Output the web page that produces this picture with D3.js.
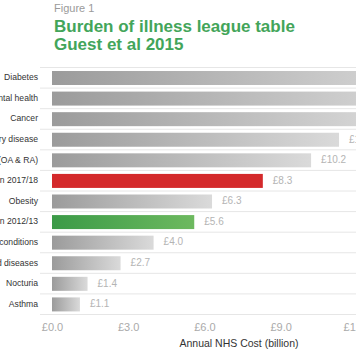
<!DOCTYPE html>
<html><head><meta charset="utf-8">
<script src="https://cdn.jsdelivr.net/npm/d3@7"></script>
<style>
html,body{margin:0;padding:0;background:#fff;overflow:hidden;}
svg{display:block;font-family:"Liberation Sans",Arial,Helvetica,sans-serif;}
</style></head>
<body>
<svg id="chart" width="356" height="364"></svg>
<script>
const categories = ["Diabetes","Mental health","Cancer","Respiratory disease","Arthritis (OA & RA)","Continence prescription 2017/18","Obesity","Continence prescription 2012/13","Skin conditions","Blood diseases","Nocturia","Asthma"];
const values = [14.9, 14.7, 13.4, 11.3, 10.2, 8.3, 6.3, 5.6, 4.0, 2.7, 1.4, 1.1];
const barKind = ["grey","grey","grey","grey","grey","red","grey","green","grey","grey","grey","grey"];
const tickValues = [0, 3, 6, 9, 12];
const tickLabels = ["£0.0","£3.0","£6.0","£9.0","£12.0"];

const svg = d3.select("#chart");
const defs = svg.append("defs");
const g1 = defs.append("linearGradient").attr("id","gGrey").attr("x1","0").attr("x2","1").attr("y1","0").attr("y2","0");
g1.append("stop").attr("offset","0").attr("stop-color","#9b9b9b");
g1.append("stop").attr("offset","1").attr("stop-color","#dadada");
const g2 = defs.append("linearGradient").attr("id","gGreen").attr("x1","0").attr("x2","1").attr("y1","0").attr("y2","0");
g2.append("stop").attr("offset","0").attr("stop-color","#3b9a47");
g2.append("stop").attr("offset","1").attr("stop-color","#6db95f");
const fills = {grey:"url(#gGrey)", green:"url(#gGreen)", red:"#d4292b"};

// titles
svg.append("text").attr("x",54).attr("y",12).attr("font-size",11).attr("fill","#9a9a9a").text("Figure 1");
svg.append("text").attr("x",54).attr("y",32).attr("font-size",17).attr("font-weight","bold").attr("fill","#43a55a").text("Burden of illness league table");
svg.append("text").attr("x",54).attr("y",50).attr("font-size",17).attr("font-weight","bold").attr("fill","#43a55a").text("Guest et al 2015");

const x = d3.scaleLinear().domain([0,12]).range([52, 356.8]);
const y = d3.scaleBand().domain(categories).range([67, 314]).padding(0);

// grid lines
const lines = categories.map(c => y(c)).concat([314]);
svg.append("g").selectAll("line").data(lines).join("line")
  .attr("x1",40).attr("x2",356).attr("y1",d=>d+0.5).attr("y2",d=>d+0.5)
  .attr("stroke","#e6e6e6").attr("stroke-width",1);

// bars
svg.append("g").selectAll("rect").data(categories).join("rect")
  .attr("x", x(0))
  .attr("y", d => y(d) + 4)
  .attr("height", 14)
  .attr("width", (d,i) => x(values[i]) - x(0))
  .attr("fill", (d,i) => fills[barKind[i]]);

// category labels
svg.append("g").selectAll("text").data(categories).join("text")
  .attr("x", 38).attr("y", d => y(d) + y.bandwidth()/2 + 3)
  .attr("text-anchor","end").attr("font-size",8.6).attr("fill","#333")
  .text(d => d);

// value labels
svg.append("g").selectAll("text").data(categories).join("text")
  .attr("x", (d,i) => x(values[i]) + 10).attr("y", d => y(d) + y.bandwidth()/2 + 3.5)
  .attr("font-size",10).attr("fill","#b4b4b4")
  .text((d,i) => "£" + values[i].toFixed(1));

// x axis
const axis = d3.axisBottom(x).tickValues(tickValues).tickFormat((d,i)=>tickLabels[i]).tickSize(0).tickPadding(9);
const ax = svg.append("g").attr("transform","translate(0,314)").call(axis);
ax.select(".domain").remove();
ax.selectAll("text").attr("font-size",11).attr("fill","#aaaaaa").attr("font-family","Liberation Sans, Arial, sans-serif");

svg.append("text").attr("x",239).attr("y",347).attr("text-anchor","middle").attr("font-size",10.5).attr("fill","#333").text("Annual NHS Cost (billion)");
</script>
</body></html>
